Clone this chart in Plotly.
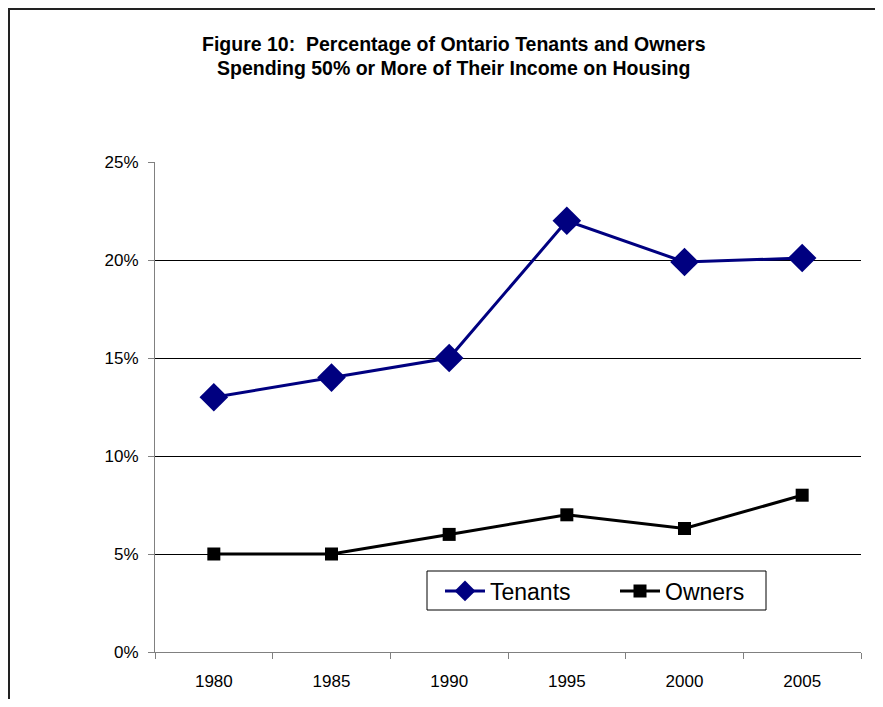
import plotly.graph_objects as go

years = ["1980", "1985", "1990", "1995", "2000", "2005"]
tenants = [0.130, 0.140, 0.150, 0.220, 0.199, 0.201]
owners = [0.050, 0.050, 0.060, 0.070, 0.063, 0.080]
y_ticks = [0, 0.05, 0.10, 0.15, 0.20, 0.25]
y_tick_labels = ["0%", "5%", "10%", "15%", "20%", "25%"]

OFF = 8  # default page body margin
W, H = 883 - 2 * OFF, 707 - 2 * OFF
L, T = 155 - OFF, 162 - OFF
R = W - (861 - OFF)
B = H - (652 - OFF)
pw, ph = W - L - R, H - T - B

def px_x(x):
    return (x - OFF - L) / pw

def px_y(y):
    return (H - B - (y - OFF)) / ph

fig = go.Figure()
fig.add_trace(go.Scatter(
    x=years, y=tenants, name="Tenants", mode="lines+markers",
    line=dict(color="#000080", width=3),
    marker=dict(symbol="diamond", size=22, color="#000080"),
))
fig.add_trace(go.Scatter(
    x=years, y=owners, name="Owners", mode="lines+markers",
    line=dict(color="#000000", width=3),
    marker=dict(symbol="square", size=13, color="#000000"),
))

font = "Liberation Sans, Arial, sans-serif"
frame = dict(color="#222222", width=2)

fig.update_layout(
    width=W, height=H,
    margin=dict(l=L, r=R, t=T, b=B, autoexpand=False),
    paper_bgcolor="white", plot_bgcolor="white",
    font=dict(family=font, color="black", size=17),
    showlegend=True,
    legend=dict(
        orientation="h", x=px_x(440), y=px_y(591), xanchor="left", yanchor="middle",
        borderwidth=0, bgcolor="rgba(0,0,0,0)",
        font=dict(size=23, family=font), itemwidth=40,
        entrywidth=120, entrywidthmode="pixels",
    ),
    xaxis=dict(
        type="category", tickson="boundaries", ticks="outside", ticklen=6,
        tickcolor="#808080", showline=True, linecolor="#808080", linewidth=1,
        showgrid=False, tickfont=dict(size=17), ticklabelstandoff=14,
        range=[-0.5, 5.5],
    ),
    yaxis=dict(
        range=[0, 0.25], tickvals=y_ticks, ticktext=y_tick_labels,
        ticks="outside", ticklen=6, tickcolor="#808080",
        showline=True, linecolor="#808080", linewidth=1,
        showgrid=True, gridcolor="black", gridwidth=1,
        zeroline=False, tickfont=dict(size=17), ticklabelstandoff=6,
    ),
    annotations=[
        dict(text="<b>Figure 10:  Percentage of Ontario Tenants and Owners</b>",
             xref="paper", yref="paper", x=px_x(453.5), y=px_y(44),
             xanchor="center", yanchor="middle", showarrow=False,
             font=dict(size=19.5, family=font)),
        dict(text="<b>Spending 50% or More of Their Income on Housing</b>",
             xref="paper", yref="paper", x=px_x(453.5), y=px_y(68),
             xanchor="center", yanchor="middle", showarrow=False,
             font=dict(size=19.5, family=font)),
    ],
    shapes=[
        dict(type="line", xref="paper", yref="paper",
             x0=px_x(9), x1=px_x(9), y0=px_y(720), y1=px_y(8),
             line=frame, layer="below"),
        dict(type="line", xref="paper", yref="paper",
             x0=px_x(8), x1=px_x(890), y0=px_y(9), y1=px_y(9),
             line=frame, layer="below"),
        dict(type="rect", xref="paper", yref="paper",
             x0=px_x(427), x1=px_x(766), y0=px_y(610), y1=px_y(571),
             line=dict(color="black", width=1), fillcolor="white", layer="below"),
    ],
)

fig.write_html("out.html")
